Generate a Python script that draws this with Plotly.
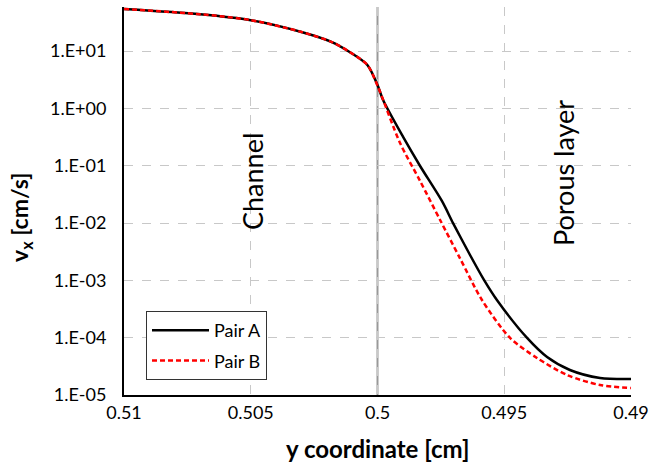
import plotly.graph_objects as go

# Data
x_a = [0.51, 0.507, 0.505, 0.503, 0.5018, 0.5011, 0.5004, 0.5, 0.49978,
       0.49899, 0.49832, 0.49746, 0.49702, 0.49635, 0.4958, 0.49529,
       0.4941, 0.49331, 0.49241, 0.49122, 0.49]
v_a = [54.3, 44.0, 34.7, 21.6, 14.4, 9.66, 5.73, 2.56, 1.40,
       0.318, 0.099, 0.0243, 0.01, 0.00277, 0.00102, 4.55e-4,
       9.9e-5, 4.6e-5, 2.73e-5, 1.98e-5, 1.9e-5]

x_b = [0.51, 0.507, 0.505, 0.503, 0.5018, 0.5011, 0.5004, 0.5, 0.49911,
       0.49832, 0.49753, 0.49675, 0.49588, 0.49477, 0.49371,
       0.49252, 0.49122, 0.49]
v_b = [54.3, 44.0, 34.7, 21.6, 14.4, 9.66, 5.73, 2.5, 0.249,
       0.0542, 0.0113, 0.00245, 4.55e-4, 9.9e-5, 4.42e-5,
       2.23e-5, 1.49e-5, 1.32e-5]

x_ticks = [0.51, 0.505, 0.5, 0.495, 0.49]
x_ticktext = ["0.51", "0.505", "0.5", "0.495", "0.49"]
y_ticks = [1e-5, 1e-4, 1e-3, 1e-2, 1e-1, 1e0, 1e1]
y_ticktext = ["1.E-05", "1.E-04", "1.E-03", "1.E-02", "1.E-01", "1.E+00", "1.E+01"]

FONT = "Lato"
L, R, T, B = 124, 18, 7, 73
PW, PH = 649 - L - R, 468 - T - B


def px(xp):
    return (xp - L) / PW


def py(yp):
    return (468 - B - yp) / PH


fig = go.Figure()
fig.add_trace(go.Scatter(x=x_a, y=v_a, mode="lines", name="Pair A", legendgroup="a",
                         line=dict(color="black", width=2.5, shape="spline", smoothing=0.8)))
fig.add_trace(go.Scatter(x=x_b, y=v_b, mode="lines", name="Pair B", legendgroup="b",
                         line=dict(color="#ff0000", width=2.5, dash="5px,3px",
                                   shape="spline", smoothing=0.8)))

fig.add_shape(type="line", xref="x", yref="paper", x0=0.5, x1=0.5, y0=0, y1=1,
              line=dict(color="#999999", width=2), layer="below")

fig.update_layout(
    width=649, height=468,
    margin=dict(l=L, r=R, t=T, b=B, autoexpand=False),
    paper_bgcolor="white", plot_bgcolor="white",
    font=dict(family=FONT, size=18, color="black"),
    showlegend=True,
    legend=dict(x=px(146), y=py(311), xanchor="left", yanchor="top",
                bgcolor="white", bordercolor="#333333", borderwidth=1,
                font=dict(size=18, family=FONT), tracegroupgap=4, itemwidth=57),
    xaxis=dict(range=[0.51, 0.49], tickvals=x_ticks, ticktext=x_ticktext,
               showgrid=True, gridcolor="#c8c8c8", griddash="dash", gridwidth=1,
               showline=True, linecolor="black", linewidth=2, ticks="",
               zeroline=False, tickfont=dict(size=18, family=FONT), automargin=False),
    yaxis=dict(type="log", range=[-5, 1.77], tickvals=y_ticks, ticktext=y_ticktext,
               showgrid=True, gridcolor="#c8c8c8", griddash="dash", gridwidth=1,
               showline=True, linecolor="black", linewidth=2, ticks="",
               zeroline=False, tickfont=dict(size=18, family=FONT), ticklabelstandoff=12,
               automargin=False),
    annotations=[
        dict(text="<b>y coordinate [cm]</b>", xref="paper", yref="paper",
             x=px(377), y=py(448), xanchor="center", yanchor="middle",
             showarrow=False, font=dict(size=24, family=FONT)),
        dict(text="<b>v<sub>x</sub> [cm/s]</b>", xref="paper", yref="paper",
             x=px(20), y=py(218), xanchor="center", yanchor="middle",
             showarrow=False, textangle=-90, font=dict(size=23, family=FONT)),
        dict(text="Channel", xref="paper", yref="paper",
             x=px(253), y=py(182), xanchor="center", yanchor="middle",
             showarrow=False, textangle=-90, font=dict(size=27, family=FONT)),
        dict(text="Porous layer", xref="paper", yref="paper",
             x=px(563), y=py(173), xanchor="center", yanchor="middle",
             showarrow=False, textangle=-90, font=dict(size=27, family=FONT)),
    ],
)

fig.write_html("out.html")
